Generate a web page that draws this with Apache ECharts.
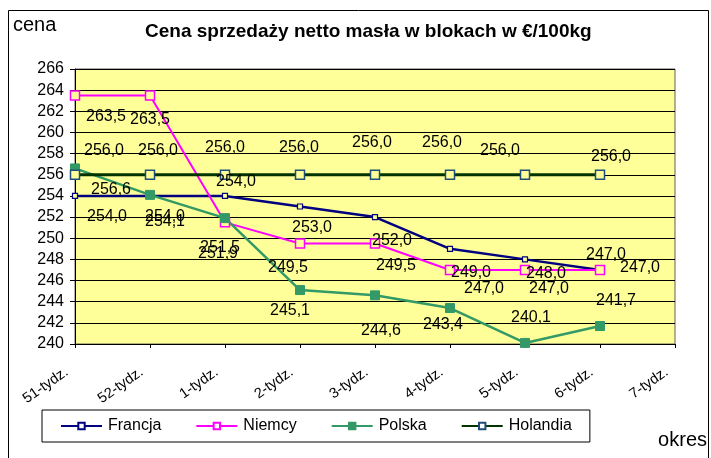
<!DOCTYPE html>
<html>
<head>
<meta charset="utf-8">
<script src="https://cdn.jsdelivr.net/npm/echarts@6/dist/echarts.min.js"></script>
<style>
  html, body { margin: 0; padding: 0; background: #fff; }
  #chart { width: 711px; height: 458px; }
</style>
</head>
<body>
<div id="chart"></div>
<script>
// ---- data ----
const categories = ['51-tydz.', '52-tydz.', '1-tydz.', '2-tydz.', '3-tydz.', '4-tydz.', '5-tydz.', '6-tydz.', '7-tydz.'];
const francja  = [254.0, 254.0, 254.0, 253.0, 252.0, 249.0, 248.0, 247.0, null];
const niemcy   = [263.5, 263.5, 251.5, 249.5, 249.5, 247.0, 247.0, 247.0, null];
const polska   = [256.6, 254.1, 251.9, 245.1, 244.6, 243.4, 240.1, 241.7, null];
const holandia = [256.0, 256.0, 256.0, 256.0, 256.0, 256.0, 256.0, 256.0, null];
const yMin = 240, yMax = 266, yStep = 2;

// ---- label placement (styling only) ----
const labelShift = {
  Francja:  [[32,21],[15,21],[11,-14],[12,21],[17,24],[21,24],[21,14],[6,-15]],
  Niemcy:   [[31,21],[0,24],[-5,25],[-12,24],[21,22],[34,19],[24,19],[40,-2]],
  Polska:   [[36,21],[15,27],[-7,35],[-10,21],[6,35],[-7,17],[6,-25],[16,-25]],
  Holandia: [[29,-24],[8,-24],[0,-27],[-1,-27],[-3,-32],[-8,-32],[-25,-24],[11,-18]]
};

const FONT = '"Liberation Sans", Arial, sans-serif';
const fmt = v => v.toFixed(1).replace('.', ',');

function withLabels(name, values) {
  return values.map((v, i) => {
    if (v == null) return null;
    const off = labelShift[name][i] || [0, 0];
    return { value: v, label: { offset: off } };
  });
}

function makeSeries(name, values, lineColor, lineWidth, symbolSize, fill, border, borderWidth) {
  return {
    name: name,
    type: 'line',
    data: withLabels(name, values),
    symbol: 'rect',
    symbolSize: symbolSize,
    showAllSymbol: true,
    connectNulls: false,
    lineStyle: { color: lineColor, width: lineWidth },
    itemStyle: { color: fill, borderColor: border, borderWidth: borderWidth },
    emphasis: { disabled: true },
    label: {
      show: true,
      position: 'inside',
      formatter: p => fmt(p.value),
      color: '#000',
      fontSize: 16,
      fontFamily: FONT
    },
    z: 3
  };
}

const chart = echarts.init(document.getElementById('chart'), null, { renderer: 'canvas' });

chart.setOption({
  animation: false,
  backgroundColor: '#fff',
  title: {
    text: 'Cena sprzedaży netto masła w blokach w €/100kg',
    left: 145,
    top: 22,
    padding: 0,
    textStyle: { fontFamily: FONT, fontSize: 19, fontWeight: 'bold', color: '#000' }
  },
  legend: {
    left: 42,
    top: 410,
    padding: [8, 18, 8, 18],
    borderColor: '#000',
    borderWidth: 1,
    itemWidth: 41,
    itemHeight: 8,
    itemGap: 34,
    textStyle: { fontFamily: FONT, fontSize: 16, color: '#000', padding: [0, 0, 0, 1] },
    data: [
      { name: 'Francja', itemStyle: { color: '#fff' } },
      { name: 'Niemcy', itemStyle: { color: '#fff' } },
      { name: 'Polska' },
      { name: 'Holandia', itemStyle: { color: '#fff' } }
    ]
  },
  grid: { left: 75, top: 69, width: 600, height: 275, show: true, backgroundColor: '#FFFF99', borderColor: '#606060', borderWidth: 1 },
  xAxis: {
    type: 'category',
    data: categories,
    boundaryGap: false,
    axisLine: { lineStyle: { color: '#000', width: 1 } },
    axisTick: { show: true, length: 4, lineStyle: { color: '#000' }, alignWithLabel: true },
    axisLabel: {
      interval: 0,
      rotate: 35,
      margin: 21,
      padding: [0, 10, 0, 0],
      fontFamily: FONT,
      fontSize: 14.5,
      color: '#000'
    },
    splitLine: { show: false }
  },
  yAxis: {
    type: 'value',
    min: yMin,
    max: yMax,
    interval: yStep,
    axisLine: { show: true, lineStyle: { color: '#000', width: 1 } },
    axisTick: { show: true, length: 5, lineStyle: { color: '#000' } },
    axisLabel: { margin: 11, fontFamily: FONT, fontSize: 16, color: '#000' },
    splitLine: { show: true, lineStyle: { color: '#000', width: 1 } }
  },
  graphic: [
    { type: 'rect', shape: { x: 8.5, y: 10.5, width: 700, height: 470 }, style: { fill: null, stroke: '#000', lineWidth: 1 }, silent: true, z: 0 },
    { type: 'text', left: 13, top: 15, style: { text: 'cena', fontFamily: FONT, fontSize: 20, fill: '#000' } },
    { type: 'text', right: 4, top: 430, style: { text: 'okres', fontFamily: FONT, fontSize: 20, fill: '#000' } }
  ],
  series: [
    makeSeries('Francja', francja, '#000080', 2.5, 5, '#FFFF99', '#000080', 1.2),
    makeSeries('Niemcy', niemcy, '#FF00FF', 2, 9, '#FFFF99', '#FF00FF', 1.5),
    makeSeries('Polska', polska, '#339966', 2.5, 9, '#339966', '#339966', 1),
    makeSeries('Holandia', holandia, '#003300', 3, 9, '#FFFF99', '#1F4E79', 1.5)
  ]
});
</script>
</body>
</html>
